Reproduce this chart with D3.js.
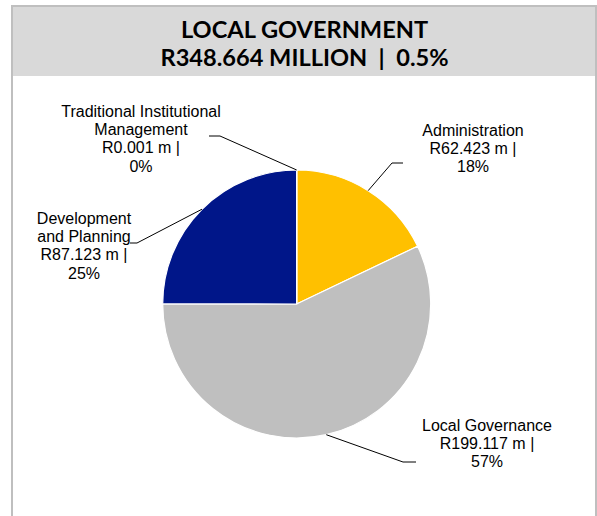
<!DOCTYPE html>
<html>
<head>
<meta charset="utf-8">
<script src="https://cdn.jsdelivr.net/npm/d3@7"></script>
<style>
  html, body { margin: 0; padding: 0; background: #fff; }
  svg { display: block; }
</style>
</head>
<body>
<svg id="chart" width="597" height="516"></svg>
<script>
// ---- Data ----
const titleLines = ["LOCAL GOVERNMENT", "R348.664 MILLION  |  0.5%"];
const categories = ["Administration", "Local Governance", "Development and Planning", "Traditional Institutional Management"];
const values = [62.423, 199.117, 87.123, 0.001];
const labelNameLines = [["Administration"], ["Local Governance"], ["Development", "and Planning"], ["Traditional Institutional", "Management"]];
const colors = ["#FFC000", "#BFBFBF", "#001689", "#4472C4"];

// ---- Layout (positions, not data) ----
const W = 597, H = 516;
const cx = 296.7, cy = 304, R = 134;
const labelLayout = [
  { x: 473, y: 136, elbow: [392, 163], end: [403, 163] },
  { x: 487, y: 431, elbow: [403, 462], end: [416, 462] },
  { x: 84,  y: 224, elbow: [137, 243], end: [130, 243] },
  { x: 141, y: 117, elbow: [220, 136], end: [209, 136] }
];
const lineH = 18.2;

const svg = d3.select("#chart");

// Frame
svg.append("rect").attr("x", 12).attr("y", 6).attr("width", 584).attr("height", H + 10)
  .attr("fill", "#fff").attr("stroke", "#BFBFBF").attr("stroke-width", 2);
svg.append("rect").attr("x", 13).attr("y", 7).attr("width", 582).attr("height", 69)
  .attr("fill", "#D9D9D9");

// Title
const title = svg.append("text").attr("text-anchor", "middle")
  .style("font-family", "'Century Gothic', 'Lato', sans-serif")
  .style("font-weight", "bold").style("font-size", "23.6px").attr("fill", "#000");
titleLines.forEach((t, i) => {
  title.append("tspan").attr("x", 304.5).attr("y", 38 + i * 27.5).attr("xml:space", "preserve").text(t);
});

// Pie
const total = d3.sum(values);
const pie = d3.pie().sort(null).value(d => d)(values);
const arc = d3.arc().innerRadius(0).outerRadius(R);
const g = svg.append("g").attr("transform", `translate(${cx},${cy})`);
g.selectAll("path").data(pie).join("path")
  .attr("d", arc)
  .attr("fill", (d, i) => colors[i])
  .attr("stroke", "#fff").attr("stroke-width", 1.2);

// Leader lines
pie.forEach((d, i) => {
  const a = (d.startAngle + d.endAngle) / 2;
  const px = cx + R * Math.sin(a), py = cy - R * Math.cos(a);
  const L = labelLayout[i];
  svg.append("polyline")
    .attr("points", [[px, py], L.elbow, L.end].map(p => p.join(",")).join(" "))
    .attr("fill", "none").attr("stroke", "#000").attr("stroke-width", 1);
});

// Labels
pie.forEach((d, i) => {
  const L = labelLayout[i];
  const lines = labelNameLines[i].concat([
    "R" + values[i].toFixed(3) + " m |",
    Math.round(values[i] / total * 100) + "%"
  ]);
  const t = svg.append("text").attr("text-anchor", "middle")
    .style("font-family", "Arial, 'Liberation Sans', sans-serif")
    .style("font-size", "16px").attr("fill", "#000");
  lines.forEach((s, j) => {
    t.append("tspan").attr("x", L.x).attr("y", L.y + j * lineH).text(s);
  });
});
</script>
</body>
</html>
